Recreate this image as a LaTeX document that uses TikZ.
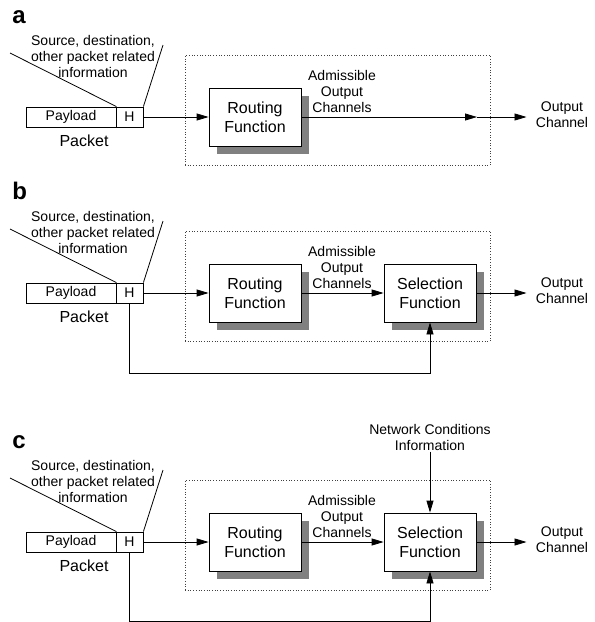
\documentclass[tikz,border=0pt]{standalone}
\usepackage{fontspec}
\setmainfont{Liberation Sans}
\usetikzlibrary{arrows.meta,shadows}

% Packet, header and the part common to every panel.
% #1 = panel letter (also used as name suffix), #2 = vertical offset
\newcommand{\pktpanel}[2]{%
  \begin{scope}[shift={(0,#2)}]
    \node[tag, anchor=base west] (tag#1) at (12,23) {#1};
    \node[lbl] (src#1) at (93,56) {Source, destination,\\other packet related\\information};
    \node[frame, minimum width=305pt, minimum height=110pt] (box#1) at (337.5,110) {};
    \node[pkt, minimum width=90pt] (pay#1) at (71,117) {Payload};
    \node[pkt, minimum width=27pt] (hdr#1) at (129.5,117) {H};
    \node[lbl, font=\fontsize{16}{19}\selectfont] (pk#1) at (84,141) {Packet};
    \coordinate (ll#1) at (10,53);
    \coordinate (lr#1) at (163,45);
    \draw (ll#1) -- (pay#1.north east);
    \draw (hdr#1.north east) -- (lr#1);
    \node[fnbox] (rt#1) at (255,117) {Routing\\Function};
    \draw[arr] (hdr#1.east) -- (rt#1.west);
    \node[lbl] (adm#1) at (342,91) {Admissible\\Output\\Channels};
    \node[lbl, inner xsep=9pt] (out#1) at (562,115) {Output\\Channel};
  \end{scope}}

\begin{document}
\begin{tikzpicture}[x=1pt, y=-1pt, line width=0.8pt,
  lbl/.style={font=\fontsize{14}{16}\selectfont, align=center, inner sep=0pt},
  tag/.style={font=\fontsize{24}{24}\selectfont\bfseries, inner sep=0pt},
  pkt/.style={draw, fill=white, minimum height=20pt, inner sep=0pt,
    font=\fontsize{14}{16}\selectfont},
  fnbox/.style={draw, fill=white, minimum width=92pt, minimum height=58pt,
    inner sep=0pt, align=center, font=\fontsize{16}{19}\selectfont,
    drop shadow={shadow xshift=8pt, shadow yshift=-8pt, fill=black!50, opacity=1}},
  frame/.style={draw=black!75, dotted, line width=0.7pt, inner sep=0pt},
  arr/.style={-{Triangle[length=12pt,width=7pt]}}]

  \useasboundingbox[fill=white] (0,0) rectangle (595,622);

  % (a) routing function only
  \pktpanel{a}{0}
  \coordinate (ja) at (477,117);
  \draw[arr] (rta.east) -- (ja);
  \draw[arr] (ja) -- (ja -| outa.west);

  % (b) routing followed by selection
  \pktpanel{b}{176}
  \node[fnbox] (selb) at (430,293) {Selection\\Function};
  \draw[arr] (rtb.east) -- (selb.west);
  \draw[arr] (selb.east) -- (selb.east -| outb.west);
  \draw[arr] (hdrb.south) -- ++(0,70) -| (selb.south);

  % (c) selection also fed by network conditions
  \pktpanel{c}{425}
  \node[fnbox] (selc) at (430,542) {Selection\\Function};
  \draw[arr] (rtc.east) -- (selc.west);
  \draw[arr] (selc.east) -- (selc.east -| outc.west);
  \draw[arr] (hdrc.south) -- ++(0,69) -| (selc.south);
  \node[lbl, inner sep=1pt] (net) at (430,437) {Network Conditions\\Information};
  \draw[arr] (net.south) -- (selc.north);
\end{tikzpicture}
\end{document}
